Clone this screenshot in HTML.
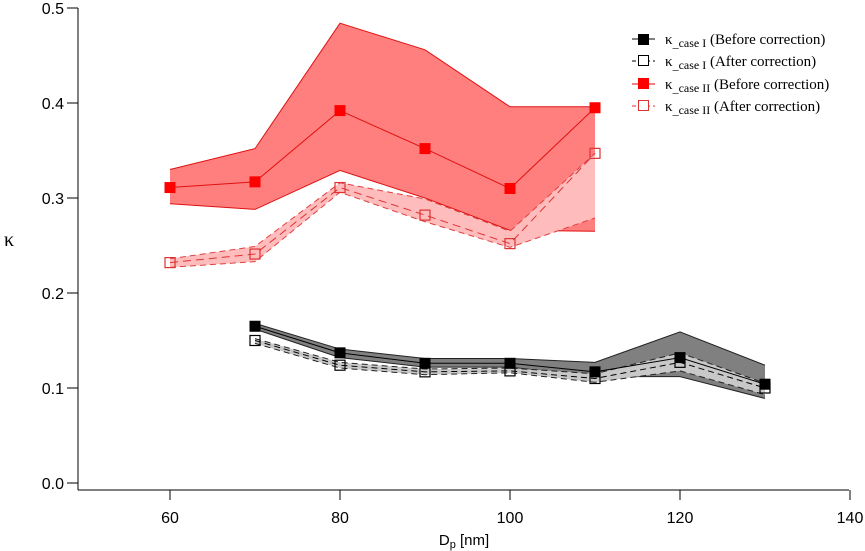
<!DOCTYPE html>
<html><head><meta charset="utf-8"><style>
body{margin:0;background:#fff}
svg{display:block;font-family:"Liberation Sans",sans-serif}
.lg{font-family:"Liberation Serif",serif;font-size:15px}
</style></head><body>
<svg id="c" width="865" height="551" viewBox="0 0 865 551">
<g id="axes"></g><g id="plot"></g>
<g id="legend" class="lg">
 <g>
  <line x1="632" y1="39" x2="655" y2="39" stroke="#000"/><rect x="638" y="34" width="11" height="11" fill="#000"/>
  <text x="665" y="44">κ<tspan font-size="12" dy="3">_case I</tspan><tspan dy="-3"> (Before correction)</tspan></text></g>
 <g>
  <line x1="632" y1="61" x2="655" y2="61" stroke="#000" stroke-dasharray="4,3"/><rect x="638.5" y="55.5" width="10" height="10" fill="#fff" stroke="#000"/>
  <text x="665" y="66">κ<tspan font-size="12" dy="3">_case I</tspan><tspan dy="-3"> (After correction)</tspan></text></g>
 <g>
  <line x1="632" y1="84" x2="655" y2="84" stroke="#e00"/><rect x="638" y="78" width="11" height="11" fill="#f00"/>
  <text x="665" y="89">κ<tspan font-size="12" dy="3">_case II</tspan><tspan dy="-3"> (Before correction)</tspan></text></g>
 <g>
  <line x1="632" y1="106" x2="655" y2="106" stroke="#d33" stroke-dasharray="4,3"/><rect x="638.5" y="100.5" width="10" height="10" fill="#fff" stroke="#d33"/>
  <text x="665" y="111">κ<tspan font-size="12" dy="3">_case II</tspan><tspan dy="-3"> (After correction)</tspan></text></g>
</g>
</svg>
<script>
const xTicks=[60,80,100,120,140];
const yTicks=[0.0,0.1,0.2,0.3,0.4,0.5];
const dpRed=[60,70,80,90,100,110];
const dpBlack=[70,80,90,100,110,120,130];
const redBefore=[0.311,0.317,0.392,0.352,0.310,0.395];
const redBeforeHi=[0.330,0.352,0.484,0.456,0.396,0.396];
const redBeforeLo=[0.294,0.288,0.329,0.300,0.266,0.265];
const redAfter=[0.232,0.241,0.311,0.282,0.252,0.347];
const redAfterHi=[0.236,0.249,0.316,0.299,0.265,0.347];
const redAfterLo=[0.227,0.233,0.306,0.275,0.248,0.279];
const blackBefore=[0.165,0.137,0.126,0.126,0.117,0.132,0.104];
const blackBeforeHi=[0.168,0.141,0.131,0.131,0.127,0.159,0.124];
const blackBeforeLo=[0.162,0.132,0.122,0.122,0.112,0.112,0.089];
const blackAfter=[0.150,0.124,0.117,0.118,0.110,0.127,0.100];
const blackAfterHi=[0.152,0.127,0.120,0.121,0.115,0.137,0.105];
const blackAfterLo=[0.147,0.121,0.114,0.116,0.106,0.118,0.093];

const X=v=>170+(v-60)*8.5;
const Y=v=>483-v*950;
const NS='http://www.w3.org/2000/svg';
function mk(p,t,a){const e=document.createElementNS(NS,t);for(const k in a)e.setAttribute(k,a[k]);p.appendChild(e);return e;}
const axes=document.getElementById('axes'),plot=document.getElementById('plot');

let e=mk(axes,'line',{x1:78,y1:490,x2:849,y2:490,stroke:'#000'});


e=mk(axes,'line',{x1:78,y1:8,x2:78,y2:490,stroke:'#000'});


xTicks.forEach(t=>{
  mk(axes,'line',{x1:X(t),y1:490,x2:X(t),y2:500,stroke:'#000'});
  const tx=mk(axes,'text',{x:X(t),y:523,'text-anchor':'middle','font-size':16});
  tx.textContent=t;
  
  
});
yTicks.forEach(t=>{
  mk(axes,'line',{x1:67,y1:Y(t),x2:78,y2:Y(t),stroke:'#000'});
  const tx=mk(axes,'text',{x:64,y:Y(t)+6,'text-anchor':'end','font-size':16});
  tx.textContent=t.toFixed(1);
  
  
});
let xt=mk(axes,'text',{x:464,y:545,'text-anchor':'middle','font-size':15});
xt.innerHTML='D<tspan font-size="11" dy="3">p</tspan><tspan dy="-3"> [nm]</tspan>';


let yt=mk(axes,'text',{x:9,y:246,'text-anchor':'middle','font-size':20,'font-family':'Liberation Serif, serif'});
yt.textContent='κ';



function pts(xs,ys){return xs.map((x,i)=>X(x)+','+Y(ys[i])).join(' ');}
function band(name,xs,hi,lo,fill,edge,dash){
  const p=mk(plot,'polygon',{points:pts(xs,hi)+' '+pts(xs.slice().reverse(),lo.slice().reverse()),fill:fill,stroke:'none'});
  
  
  const a={fill:'none',stroke:edge,'stroke-width':1};if(dash)a['stroke-dasharray']=dash;
  mk(plot,'polyline',Object.assign({points:pts(xs,hi)},a));
  mk(plot,'polyline',Object.assign({points:pts(xs,lo)},a));
}
function series(name,xs,ys,color,dash,filled,mfill){
  const a={points:pts(xs,ys),fill:'none',stroke:color,'stroke-width':1};if(dash)a['stroke-dasharray']=dash;
  const l=mk(plot,'polyline',a);
  
  
  xs.forEach((x,i)=>{
    const r=filled?mk(plot,'rect',{x:X(x)-5.5,y:Y(ys[i])-5.5,width:11,height:11,fill:mfill}):
      mk(plot,'rect',{x:X(x)-5,y:Y(ys[i])-5,width:10,height:10,fill:'none',stroke:color,'stroke-width':1.2});
    
    
  });
}
band('band-case2-before',dpRed,redBeforeHi,redBeforeLo,'#ff7f7f','#e01010');
band('band-case2-after',dpRed,redAfterHi,redAfterLo,'#ffbcbc','#e04040','6,4');
band('band-case1-before',dpBlack,blackBeforeHi,blackBeforeLo,'#808080','#222');
band('band-case1-after',dpBlack,blackAfterHi,blackAfterLo,'#c8c8c8','#222','6,4');
series('case2-before',dpRed,redBefore,'#e01010','',true,'#f00');
series('case2-after',dpRed,redAfter,'#d33','8,5',false);
series('case1-before',dpBlack,blackBefore,'#000','',true,'#000');
series('case1-after',dpBlack,blackAfter,'#000','6,4',false);
</script>
</body></html>
